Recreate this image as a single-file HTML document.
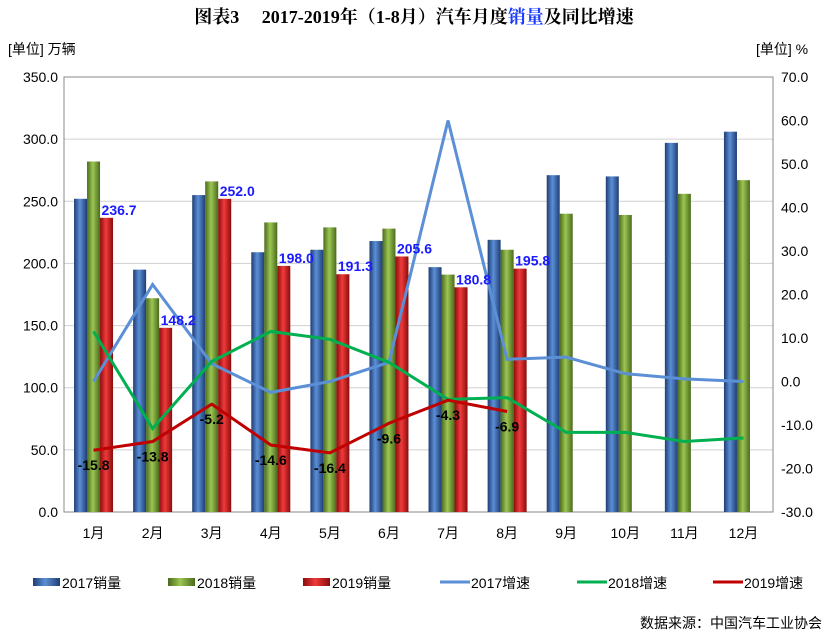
<!DOCTYPE html>
<html><head><meta charset="utf-8"><style>
body{margin:0;background:#fff;}
svg{display:block;font-family:"Liberation Sans","Noto Sans CJK SC",sans-serif;}
</style></head><body>
<svg id="c" width="829" height="634" viewBox="0 0 829 634">
<defs>
<linearGradient id="g17" x1="0" x2="1"><stop offset="0" stop-color="#1f3d73"/><stop offset="0.45" stop-color="#5b8fd6"/><stop offset="1" stop-color="#1f3d73"/></linearGradient>
<linearGradient id="g18" x1="0" x2="1"><stop offset="0" stop-color="#4a6a1c"/><stop offset="0.45" stop-color="#9cc654"/><stop offset="1" stop-color="#4a6a1c"/></linearGradient>
<linearGradient id="g19" x1="0" x2="1"><stop offset="0" stop-color="#8a0c0c"/><stop offset="0.45" stop-color="#f03a3a"/><stop offset="1" stop-color="#8a0c0c"/></linearGradient>
</defs>
<text x="414" y="23" text-anchor="middle" font-size="18" font-weight="bold" fill="#000" font-family="Liberation Serif, Noto Serif CJK SC, serif">图表3　 2017-2019年（1-8月）汽车月度<tspan fill="#1a3cff">销量</tspan>及同比增速</text>
<text x="8" y="54" font-size="14">[单位] 万辆</text>
<text x="756" y="54" font-size="14">[单位] %</text>
<g id="plot"></g>
<g font-size="14">
<rect x="33" y="578" width="27" height="8" fill="url(#g17)"/><text x="62" y="588">2017销量</text>
<rect x="168" y="578" width="27" height="8" fill="url(#g18)"/><text x="197" y="588">2018销量</text>
<rect x="303" y="578" width="27" height="8" fill="url(#g19)"/><text x="332" y="588">2019销量</text>
<line x1="440" y1="582" x2="470" y2="582" stroke="#5b8fd6" stroke-width="3"/><text x="471" y="588">2017增速</text>
<line x1="577" y1="582" x2="607" y2="582" stroke="#00b050" stroke-width="3"/><text x="608" y="588">2018增速</text>
<line x1="713" y1="582" x2="743" y2="582" stroke="#c00000" stroke-width="3"/><text x="744" y="588">2019增速</text>
</g>
<text x="822" y="628" text-anchor="end" font-size="14">数据来源：中国汽车工业协会</text>
</svg>
<script>
const months=["1月","2月","3月","4月","5月","6月","7月","8月","9月","10月","11月","12月"];
const sales2017=[252,195,255,209,211,218,197,219,271,270,297,306];
const sales2018=[282,172,266,233,229,228,191,211,240,239,256,267];
const sales2019=[236.7,148.2,252.0,198.0,191.3,205.6,180.8,195.8];
const growth2017=[0,22.3,4.1,-2.5,0,4.4,60,5.1,5.6,1.8,0.6,0];
const growth2018=[11.5,-10.8,4.6,11.5,9.7,4.4,-4.1,-3.7,-11.7,-11.7,-13.8,-13];
const growth2019=[-15.8,-13.8,-5.2,-14.6,-16.4,-9.6,-4.3,-6.9];
const leftTicks=[0,50,100,150,200,250,300,350];
const rightTicks=[-30,-20,-10,0,10,20,30,40,50,60,70];
const X0=64,X1=773,YT=77,YB=512;
const NS="http://www.w3.org/2000/svg";
const g=document.getElementById('plot');
const step=(X1-X0)/months.length;
const xc=i=>X0+step*(i+0.5);
const yL=v=>YB-(v/350)*(YB-YT);
const yR=v=>YB-((v+30)/100)*(YB-YT);
function mk(t,a,p){const e=document.createElementNS(NS,t);for(const k in a)e.setAttribute(k,a[k]);(p||g).appendChild(e);return e;}
leftTicks.forEach(v=>{
 const l=mk('line',{x1:X0,x2:X1,y1:yL(v),y2:yL(v),stroke:'#d0d0d0'});
 
 
 const t=mk('text',{x:X0-6,y:yL(v)+5,'text-anchor':'end','font-size':14});
 t.textContent=v.toFixed(1);
 
 
});
rightTicks.forEach(v=>{
 const t=mk('text',{x:X1+8,y:yR(v)+5,'font-size':14});
 t.textContent=v.toFixed(1);
 
 
});
const fr=mk('rect',{x:X0,y:YT,width:X1-X0,height:YB-YT,fill:'none',stroke:'#888'});


months.forEach((m,i)=>{
 const t=mk('text',{x:xc(i),y:YB+26,'text-anchor':'middle','font-size':14});
 t.textContent=m;
 
 
});
const bw=13;
function bars(arr,off,fill,name){arr.forEach((v,i)=>{
 const r=mk('rect',{x:xc(i)+off-bw/2,y:yL(v),width:bw,height:YB-yL(v),fill:fill});
 
 
});}
bars(sales2017,-13,'url(#g17)','bar-2017');
bars(sales2018,0,'url(#g18)','bar-2018');
bars(sales2019,13,'url(#g19)','bar-2019');
function line(arr,col,name){
 const p=mk('polyline',{points:arr.map((v,i)=>xc(i)+','+yR(v)).join(' '),fill:'none',stroke:col,'stroke-width':3});
 
 
}
line(growth2017,'#5b8fd6','line-2017-growth');
line(growth2018,'#00b050','line-2018-growth');
line(growth2019,'#c00000','line-2019-growth');
sales2019.forEach((v,i)=>{
 const t=mk('text',{x:xc(i)+8,y:yL(v)-3,'font-size':14,'font-weight':'bold',fill:'#1a1aff'});
 t.textContent=v.toFixed(1);
 
 
});
growth2019.forEach((v,i)=>{
 const t=mk('text',{x:xc(i),y:yR(v)+20,'font-size':14,'font-weight':'bold','text-anchor':'middle',fill:'#000'});
 t.textContent=v.toFixed(1);
 
 
});
</script>
</body></html>
